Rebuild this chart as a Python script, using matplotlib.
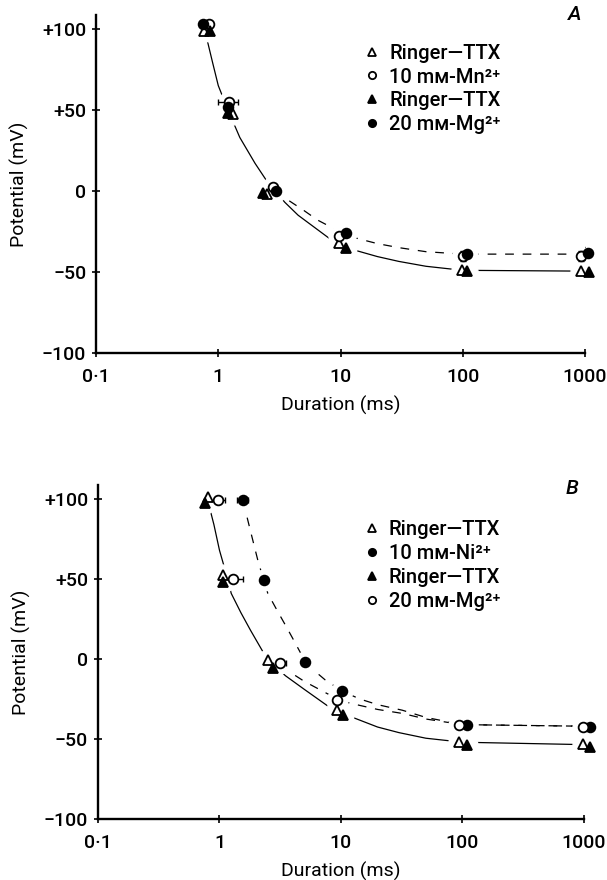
import matplotlib.pyplot as plt
import numpy as np

plt.rcParams['font.family'] = ['Roboto', 'Liberation Sans', 'DejaVu Sans']
plt.rcParams['font.weight'] = 'medium'

# ---- panel A : durations (ms) and potentials (mV)
a_tri_open_x = [0.76, 1.32, 2.49, 9.75, 98, 935]
a_tri_open_y = [99, 47.5, -2, -32, -49, -49.5]
a_circ_open_x = [0.84, 1.22, 2.78, 9.75, 100, 930]
a_circ_open_y = [103, 55, 2.5, -28, -40, -40]
a_circ_open_xerr = [0, 0.22, 0, 0, 0, 0]
a_circ_open_yerr = [0, 0, 0, 0, 3, 3]
a_tri_fill_x = [0.86, 1.20, 2.31, 11.1, 108, 1070]
a_tri_fill_y = [99, 48, -1, -35, -49.5, -50]
a_circ_fill_x = [0.75, 1.20, 2.99, 11.1, 108, 1060]
a_circ_fill_y = [103, 51.5, 0, -26, -39, -38.5]
a_circ_fill_yerr = [0, 0, 0, 0, 0, 4]

a_fit_solid_x = [0.80, 0.9, 1.0, 1.2, 1.5, 2.0, 2.5, 3.0, 3.5, 4.5, 6, 8, 10, 13, 20, 30, 50, 100, 1000]
a_fit_solid_y = [95, 79, 65, 50, 33, 17, 6, -1, -7, -15, -22, -29, -33, -36.5, -40.5, -43.5, -46.5, -49, -49.5]
a_fit_dash_x = [2.9, 3.7, 5, 6.5, 8.2, 10, 14, 20, 30, 50, 100, 1000]
a_fit_dash_y = [0, -5.5, -12, -18, -22, -26, -29.5, -32.5, -35, -37.5, -39, -39]

a_labels = ['Ringer\u2014TTX', '10 m\u1d0d-Mn\u00b2\u207a', 'Ringer\u2014TTX', '20 m\u1d0d-Mg\u00b2\u207a']

# ---- panel B
b_tri_open_x = [0.80, 1.07, 2.51, 9.27, 93.5, 975]
b_tri_open_y = [101, 52.5, -0.5, -32, -52, -53]
b_circ_fill_x = [1.56, 2.32, 5.06, 10.2, 109, 1120]
b_circ_fill_y = [99.5, 49.5, -1.7, -20, -41, -42.5]
b_circ_fill_xerr = [0.16, 0, 0, 0, 0, 0]
b_tri_fill_x = [0.76, 1.07, 2.75, 10.4, 109, 1120]
b_tri_fill_y = [97.5, 48, -5.5, -35, -54, -55]
b_circ_open_x = [0.97, 1.29, 3.15, 9.3, 93.5, 975]
b_circ_open_y = [99.5, 50, -2.5, -25.5, -41, -42.5]
b_circ_open_xerr = [0.13, 0.27, 0.37, 0, 0, 0]

b_fit_solid_x = [0.82, 0.9, 1.0, 1.1, 1.25, 1.5, 1.8, 2.3, 3.0, 3.5, 5, 8, 10, 13, 20, 30, 50, 100, 1000]
b_fit_solid_y = [96, 84, 68, 57, 41, 29, 18, 4, -6, -10.5, -19, -30, -33, -37, -42.5, -46, -49.5, -52, -53.5]
b_fit_ni_x = [1.56, 1.62, 1.8, 2.08, 2.3, 2.5, 3.0, 3.5, 4.0, 4.75, 5.06, 5.56, 7.4, 10.2, 14.3, 20, 32, 50, 100, 1000]
b_fit_ni_y = [99, 94, 80, 61, 50, 41, 30, 21, 13, 2.5, -1.7, -5, -13, -20, -25, -28.5, -32, -36.5, -41, -42]
b_fit_mg_x = [3.3, 3.6, 5, 8.1, 9.3, 14.3, 20, 32, 50, 100, 1000]
b_fit_mg_y = [-3, -7, -14, -22.5, -25.6, -29, -31.5, -34, -37.5, -41, -42]

b_labels = ['Ringer\u2014TTX', '10 m\u1d0d-Ni\u00b2\u207a', 'Ringer\u2014TTX', '20 m\u1d0d-Mg\u00b2\u207a']

xticks = [0.1, 1, 10, 100, 1000]
xticklabels = ['0\u00b71', '1', '10', '100', '1000']
yticks = [-100, -50, 0, 50, 100]
yticklabels = ['\u2212100', '\u221250', '0', '+50', '+100']

fig = plt.figure(figsize=(6.07, 8.80), dpi=100)
axA = fig.add_axes([0.1582, 0.5989, 0.8056, 0.3841])
axB = fig.add_axes([0.1614, 0.0693, 0.8007, 0.3795])


def style(ax, top):
    ax.set_xscale('log')
    ax.set_xlim(0.1, 1000)
    ax.set_ylim(-100, top)
    for s in ['top', 'right']:
        ax.spines[s].set_visible(False)
    for s in ['left', 'bottom']:
        ax.spines[s].set_linewidth(1.7)
    ax.set_xticks(xticks)
    ax.set_xticklabels(xticklabels)
    ax.minorticks_off()
    ax.set_yticks(yticks)
    ax.set_yticklabels(yticklabels)
    ax.tick_params(direction='inout', length=6, width=1.2, labelsize=14)
    ax.tick_params(axis='y', pad=4)
    ax.tick_params(axis='x', pad=8)
    ax.set_xlabel('Duration (ms)', fontsize=14, labelpad=7)
    ax.set_ylabel('Potential (mV)', fontsize=14, labelpad=9)


def series(ax, x, y, marker, filled, xerr=None, yerr=None):
    x = np.array(x)
    y = np.array(y)
    # white halo so the fitted lines break at the symbols
    ax.plot(x, y, 'o', ms=15, color='white', zorder=2, clip_on=False)
    for err, key in [(xerr, 'xerr'), (yerr, 'yerr')]:
        if err is None:
            continue
        e = np.array(err, dtype=float)
        m = e > 0
        kw = {key: e[m]}
        ax.errorbar(x[m], y[m], fmt='none', ecolor='black', elinewidth=1,
                    capsize=2.5, capthick=1, zorder=3, **kw)
    fc = 'black' if filled else 'white'
    line, = ax.plot(x, y, linestyle='none', marker=marker, ms=7, mfc=fc, mec='black',
                    mew=1.3, zorder=4, clip_on=False)
    return line


def fit(ax, x, y, dashed):
    ls = (0, (7, 7)) if dashed else '-'
    ax.plot(x, y, color='black', lw=0.9, linestyle=ls, zorder=1)


# panel A
style(axA, 108.6)
fit(axA, a_fit_solid_x, a_fit_solid_y, False)
fit(axA, a_fit_dash_x, a_fit_dash_y, True)
hA = [series(axA, a_tri_open_x, a_tri_open_y, '^', False),
      series(axA, a_circ_open_x, a_circ_open_y, 'o', False, a_circ_open_xerr, a_circ_open_yerr),
      series(axA, a_tri_fill_x, a_tri_fill_y, '^', True),
      series(axA, a_circ_fill_x, a_circ_fill_y, 'o', True, None, a_circ_fill_yerr)]
axA.legend(hA, a_labels, loc='upper left', bbox_to_anchor=(0.548, 0.915), frameon=False,
           fontsize=14.5, markerscale=0.75, handlelength=0.8, handletextpad=0.45,
           labelspacing=0.24, borderpad=0, borderaxespad=0)
axA.text(0.978, 1.0, 'A', transform=axA.transAxes, fontsize=15, style='italic',
         ha='center', va='center')

# panel B
style(axB, 108.75)
fit(axB, b_fit_solid_x, b_fit_solid_y, False)
fit(axB, b_fit_ni_x, b_fit_ni_y, True)
fit(axB, b_fit_mg_x, b_fit_mg_y, True)
hB = [series(axB, b_tri_open_x, b_tri_open_y, '^', False),
      series(axB, b_circ_fill_x, b_circ_fill_y, 'o', True, b_circ_fill_xerr),
      series(axB, b_tri_fill_x, b_tri_fill_y, '^', True),
      series(axB, b_circ_open_x, b_circ_open_y, 'o', False, None)]
# right-only bars on the open circles of B
bx = np.array(b_circ_open_x)
by = np.array(b_circ_open_y)
be = np.array(b_circ_open_xerr)
m = be > 0
axB.errorbar(bx[m], by[m], xerr=[np.zeros(m.sum()), be[m]], fmt='none', ecolor='black',
             elinewidth=1, capsize=2.5, capthick=1, zorder=3)
axB.legend(hB, b_labels, loc='upper left', bbox_to_anchor=(0.547, 0.895), frameon=False,
           fontsize=14.5, markerscale=0.75, handlelength=0.8, handletextpad=0.45,
           labelspacing=0.24, borderpad=0, borderaxespad=0)
axB.text(0.975, 0.99, 'B', transform=axB.transAxes, fontsize=15, style='italic',
         ha='center', va='center')

fig.savefig('out.png', dpi=100)
